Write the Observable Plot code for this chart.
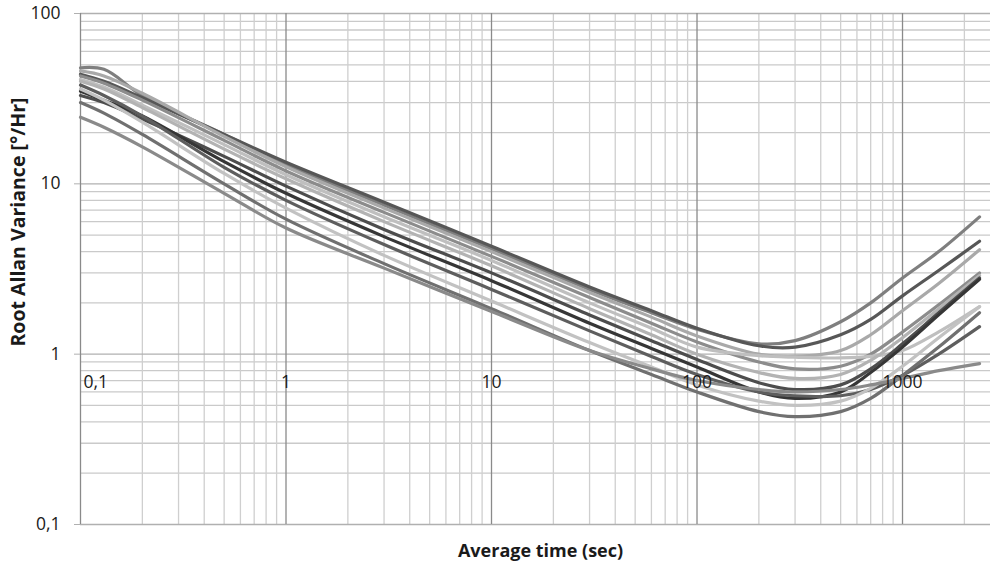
<!DOCTYPE html>
<html>
<head>
<meta charset="utf-8">
<script src="https://cdn.jsdelivr.net/npm/d3@7"></script>
<script src="https://cdn.jsdelivr.net/npm/@observablehq/plot@0.6"></script>
<style>
  html, body { margin: 0; padding: 0; background: #ffffff; }
  #chart { width: 990px; height: 566px; }
</style>
</head>
<body>
<div id="chart"></div>
<script>
// Averaging times (sec) at which each curve was read
const tau = [0.1, 0.13, 0.2, 0.5, 1, 3, 10, 30, 60, 100, 200, 300, 500, 700, 1000, 1500, 2370];

// Root Allan variance [°/Hr] for each of the 12 gyros
const s1  = [48,   47,   33,   19.5, 13.0, 7.5, 4.15, 2.4,  1.75, 1.4,  1.15, 1.2,  1.55, 2.0,  2.8,  4.0,  6.4];
const s2  = [44,   40,   32,   19.5, 13.4, 7.8, 4.3,  2.48, 1.8,  1.42, 1.12, 1.1,  1.3,  1.6,  2.2,  3.1,  4.6];
const s3  = [46,   43,   34,   19,   12.6, 7.2, 4.0,  2.3,  1.65, 1.28, 1.0,  0.97, 1.05, 1.3,  1.8,  2.6,  4.1];
const s4  = [43,   39,   31,   18,   11.9, 6.8, 3.75, 2.15, 1.52, 1.18, 0.9,  0.82, 0.85, 1.0,  1.35, 1.95, 3.0];
const s5  = [41,   37,   29,   17,   11.3, 6.4, 3.55, 2.0,  1.42, 1.1,  0.98, 0.96, 0.95, 0.97, 1.05, 1.35, 1.9];
const s6  = [40,   36,   28,   16,   10.7, 6.0, 3.3,  1.85, 1.3,  1.0,  0.78, 0.72, 0.76, 0.92, 1.25, 1.85, 2.9];
const s7  = [33,   30,   24,   14.5, 9.7,  5.4, 3.0,  1.7,  1.2,  0.93, 0.68, 0.62, 0.66, 0.82, 1.15, 1.75, 2.8];
const s8  = [35,   31,   25,   13.5, 8.8,  4.9, 2.7,  1.52, 1.08, 0.84, 0.6,  0.55, 0.6,  0.78, 1.1,  1.7,  2.75];
const s9  = [38,   33,   25,   12.5, 8.0,  4.4, 2.4,  1.37, 0.97, 0.76, 0.6,  0.57, 0.57, 0.62, 0.75, 1.0,  1.45];
const s10 = [36,   31,   23,   11.5, 7.2,  3.8, 2.05, 1.17, 0.84, 0.66, 0.53, 0.5,  0.53, 0.63, 0.85, 1.25, 1.9];
const s11 = [30,   26,   19.5, 10,   6.2,  3.4, 1.85, 1.05, 0.76, 0.6,  0.46, 0.43, 0.46, 0.55, 0.75, 1.1,  1.75];
const s12 = [24.6, 21.5, 16.5, 8.8,  5.5,  3.2, 1.78, 1.05, 0.82, 0.7,  0.62, 0.6,  0.62, 0.66, 0.72, 0.8,  0.88];

const seriesValues = [s1, s2, s3, s4, s5, s6, s7, s8, s9, s10, s11, s12];
const seriesColors = ["#7f7f7f", "#575757", "#a9a9a9", "#8c8c8c", "#bfbfbf", "#b3b3b3",
                      "#4d4d4d", "#363636", "#5e5e5e", "#c2c2c2", "#707070", "#8a8a8a"];

// Axis ticks
const xMajor = [0.1, 1, 10, 100, 1000];
const xTickLabels = ["0,1", "1", "10", "100", "1000"];
const xMinor = [0.2,0.3,0.4,0.5,0.6,0.7,0.8,0.9, 2,3,4,5,6,7,8,9, 20,30,40,50,60,70,80,90,
                200,300,400,500,600,700,800,900, 2000];
const yMajor = [0.1, 1, 10, 100];
const yTickLabels = ["0,1", "1", "10", "100"];
const yMinor = [0.2,0.3,0.4,0.5,0.6,0.7,0.8,0.9, 2,3,4,5,6,7,8,9, 20,30,40,50,60,70,80,90];

const xTitle = "Average time (sec)";
const yTitle = "Root Allan Variance [°/Hr]";

const data = [];
seriesValues.forEach((vals, k) => {
  vals.forEach((v, i) => data.push({series: k, tau: tau[i], v}));
});

const font = "'Open Sans', 'Liberation Sans', sans-serif";

const chart = Plot.plot({
  width: 990,
  height: 566,
  marginTop: 13,
  marginBottom: 42,
  marginLeft: 80,
  marginRight: 0,
  style: {fontFamily: font, background: "#ffffff", overflow: "visible"},
  x: {type: "log", domain: [0.1, 2680], axis: null},
  y: {type: "log", domain: [0.1, 100], axis: null},
  marks: [
    Plot.ruleY(yMinor, {stroke: "#cacaca", strokeWidth: 1.3}),
    Plot.ruleX(xMinor, {stroke: "#cfcfcf", strokeWidth: 1.3}),
    Plot.ruleY(yMajor, {stroke: "#b0b0b0", strokeWidth: 1.3}),
    Plot.ruleX(xMajor, {stroke: "#8a8a8a", strokeWidth: 1.3}),
    Plot.axisY({
      ticks: yMajor,
      tickSize: 6,
      tickPadding: 14,
      tickFormat: d => yTickLabels[yMajor.indexOf(d)],
      stroke: "#b0b0b0",
      fill: "#1a1a1a",
      fontSize: 17.5,
      label: null
    }),
    ...seriesValues.map((vals, k) =>
      Plot.line(data.filter(d => d.series === k), {
        x: "tau", y: "v",
        stroke: seriesColors[k],
        strokeWidth: 3.2,
        curve: "catmull-rom"
      })
    ),
    // first x label sits just right of the vertical axis
    Plot.text(xMajor.slice(0, 1), {
      x: d => d,
      y: () => 1,
      text: (d, i) => xTickLabels[i],
      dy: 28,
      dx: 3,
      textAnchor: "start",
      fontSize: 17.5,
      fill: "#1a1a1a"
    }),
    Plot.text(xMajor.slice(1), {
      x: d => d,
      y: () => 1,
      text: (d, i) => xTickLabels[i + 1],
      dy: 28,
      fontSize: 17.5,
      fill: "#1a1a1a"
    }),
    Plot.text([xTitle], {
      frameAnchor: "bottom",
      lineAnchor: "middle",
      dy: 27,
      dx: 5,
      fontSize: 18,
      fontWeight: "bold",
      fill: "#1a1a1a"
    }),
    Plot.text([yTitle], {
      frameAnchor: "left",
      textAnchor: "middle",
      lineAnchor: "middle",
      rotate: -90,
      dx: -62,
      dy: -47,
      fontSize: 19.5,
      fontWeight: "bold",
      fill: "#1a1a1a"
    })
  ]
});

document.getElementById("chart").appendChild(chart);
</script>
</body>
</html>
